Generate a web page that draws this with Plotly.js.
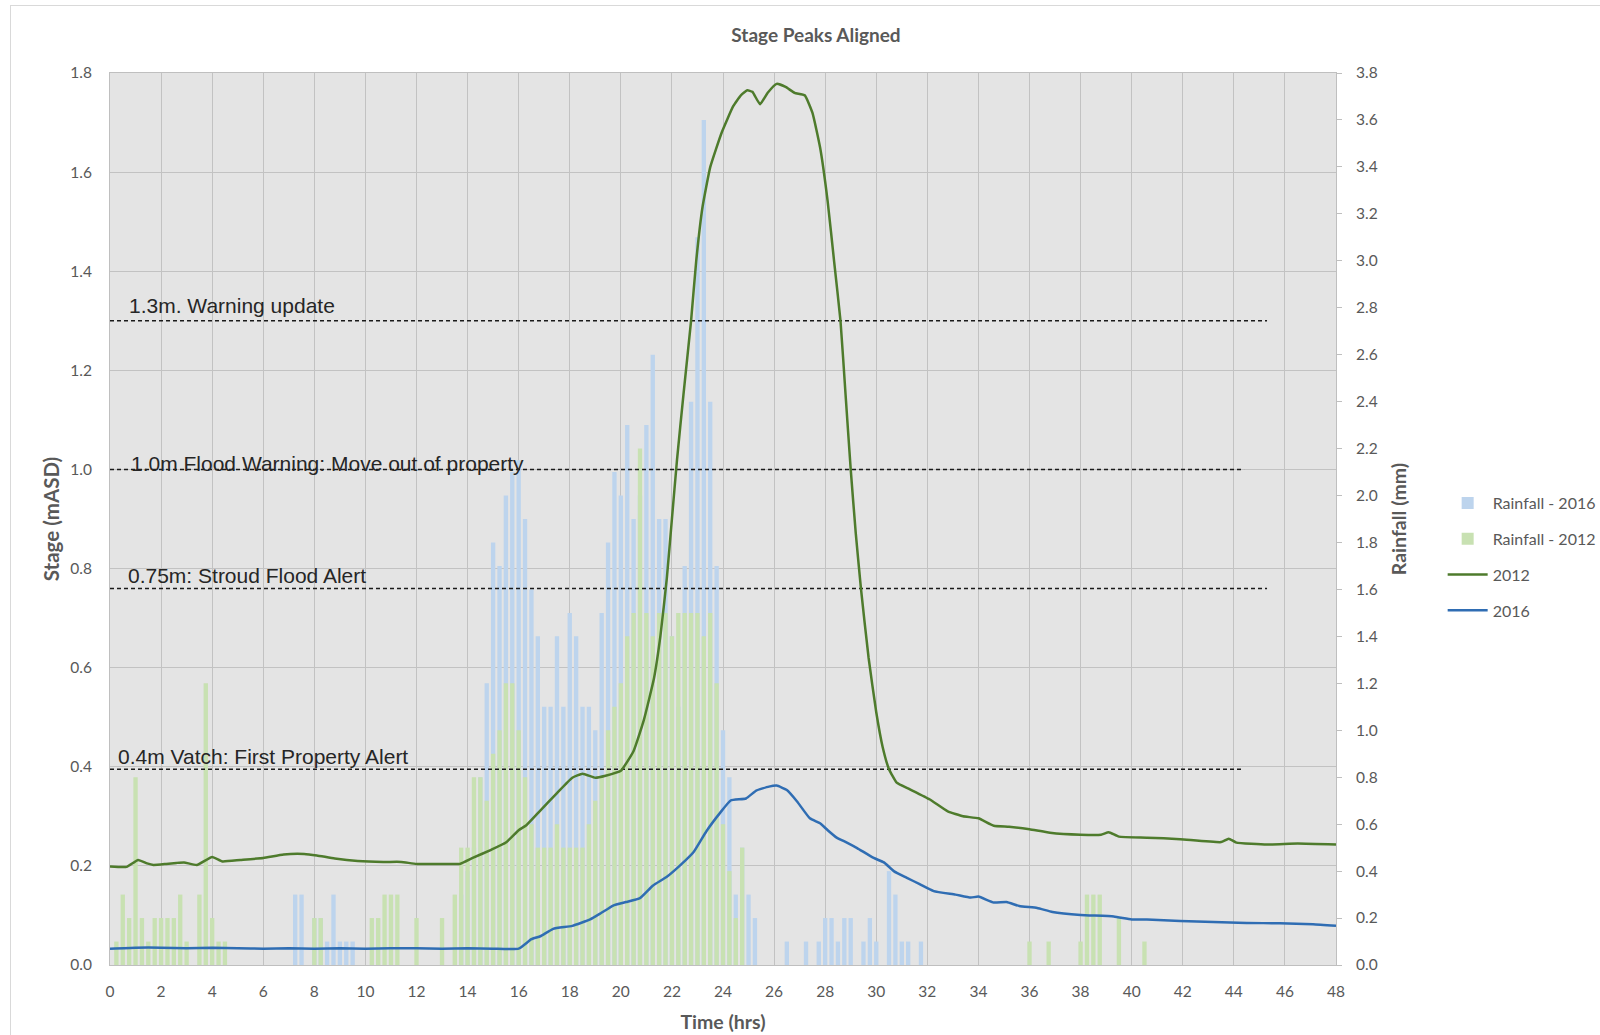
<!DOCTYPE html>
<html><head><meta charset="utf-8">
<script src="https://cdn.plot.ly/plotly-3.0.1.min.js"></script>
<style>
html,body{margin:0;padding:0;background:#fff;}
#chart{position:absolute;left:0;top:0;width:1600px;height:1035px;}
#frame{position:absolute;left:10px;top:5px;width:1620px;height:1060px;border:1px solid #d9d9d9;pointer-events:none;z-index:5;}
</style></head><body>
<div id="chart"></div><div id="frame"></div>
<script>
// ---- Rainfall (mm) per 15-minute interval, rows = hour 0..47, four quarter-hours each ----
const rain2016 = [
 0,0,0,0,  0,0,0,0,  0,0,0,0,  0,0,0,0,        // 0-3
 0,0,0,0,  0,0,0,0,  0,0,0,0,  0,0.3,0.3,0,    // 4-7
 0.2,0.2,0.1,0.3,  0.1,0.1,0.1,0,  0,0,0,0,  0,0,0,0,   // 8-11
 0,0,0,0,  0,0,0,0.3,  0.4,0.5,0.8,1.2,  1.8,1.7,2.0,2.1, // 12-15
 2.15,1.9,1.6,1.4,  1.1,1.1,1.4,1.1,  1.5,1.4,1.1,1.1,  1.0,1.5,1.8,2.1, // 16-19
 2.0,2.3,1.9,2.0,  2.3,2.6,1.9,1.9,  1.4,1.1,1.7,2.4,  3.1,3.6,2.4,1.7, // 20-23
 1.0,0.8,0.3,0.5,  0.3,0.2,0,0,  0,0,0.1,0,  0,0.1,0,0.1,  // 24-27
 0.2,0.2,0.1,0.2,  0.2,0,0.1,0.2,  0.1,0,0.4,0.3,  0.1,0.1,0,0.1, // 28-31
 0,0,0,0,  0,0,0,0,  0,0,0,0,  0,0,0,0,   // 32-35
 0,0,0,0,  0,0,0,0,  0,0,0,0,  0,0,0,0,   // 36-39
 0,0,0,0,  0,0,0,0,  0,0,0,0,  0,0,0,0,   // 40-43
 0,0,0,0,  0,0,0,0,  0,0,0,0,  0,0,0,0    // 44-47
];
const rain2012 = [
 0,0.1,0.3,0.2,  0.8,0.2,0.1,0.2,  0.2,0.2,0.2,0.3,  0.1,0,0.3,1.2,   // 0-3
 0.2,0.1,0.1,0,  0,0,0,0,  0,0,0,0,  0,0,0,0,   // 4-7
 0.2,0.2,0,0,  0,0,0,0,  0,0.2,0.2,0.3,  0.3,0.3,0,0,   // 8-11
 0.2,0,0,0,  0.2,0,0.3,0.5,  0.5,0.8,0.8,0.7,  0.9,1.0,1.2,1.2,   // 12-15
 1.0,0.8,0.6,0.5,  0.5,0.5,0.6,0.5,  0.5,0.5,0.5,0.6,  0.7,0.8,1.0,1.1, // 16-19
 1.2,1.4,1.5,2.2,  1.5,1.4,1.5,1.5,  1.4,1.5,1.5,1.5,  1.5,1.4,1.5,1.2, // 20-23
 0.6,0.4,0.2,0.5,  0,0,0,0,  0,0,0,0,  0,0,0,0,   // 24-27
 0,0,0,0,  0,0,0,0,  0,0,0,0,  0,0,0,0,   // 28-31
 0,0,0,0,  0,0,0,0,  0,0,0,0,  0,0,0,0,   // 32-35
 0.1,0,0,0.1,  0,0,0,0,  0.1,0.3,0.3,0.3,  0,0,0.2,0,   // 36-39
 0,0,0.1,0,  0,0,0,0,  0,0,0,0,  0,0,0,0,   // 40-43
 0,0,0,0,  0,0,0,0,  0,0,0,0,  0,0,0,0    // 44-47
];

// ---- Stage (mASD) ----
const time2012 = [0,0.65,1.1,1.45,1.7,2.2,2.6,2.9,3.4,4.0,4.4,5.1,6.0,6.8,7.6,8.1,8.8,9.7,10.7,11.4,12.0,13.2,13.7,
 14.2,14.9,15.5,16.0,16.3,16.8,17.5,18.1,18.5,19.0,19.4,20.0,20.5,20.9,21.3,21.55,21.8,22.0,22.2,22.45,22.75,22.95,
 23.2,23.5,23.95,24.4,24.7,24.95,25.15,25.45,25.75,26.1,26.45,26.8,27.2,27.5,27.8,28.1,28.35,28.6,28.8,29.0,29.2,29.4,
 29.7,30.0,30.25,30.5,30.8,31.3,32.1,32.8,33.4,34.0,34.6,35.2,36.0,36.8,38.0,38.8,39.1,39.5,40.6,41.9,43.5,43.8,44.1,45.3,46.5,48];
const stage2012 = [0.199,0.198,0.212,0.205,0.202,0.204,0.206,0.207,0.202,0.218,0.209,0.212,0.216,0.223,0.224,0.221,0.215,0.21,0.208,0.208,0.204,0.204,0.204,
 0.216,0.232,0.247,0.272,0.282,0.309,0.347,0.378,0.386,0.378,0.382,0.392,0.432,0.494,0.579,0.664,0.78,0.9,1.02,1.15,1.3,1.42,
 1.53,1.61,1.68,1.733,1.755,1.765,1.762,1.737,1.76,1.778,1.772,1.76,1.755,1.72,1.65,1.54,1.42,1.3,1.15,1.0,0.87,0.76,
 0.62,0.51,0.44,0.395,0.368,0.355,0.334,0.31,0.30,0.296,0.281,0.279,0.274,0.267,0.263,0.263,0.268,0.259,0.257,0.254,0.248,0.255,0.247,0.243,0.245,0.243];

const time2016 = [0,1,2,3,4,5,6,7,8,9,10,11,12,13,14,15,16.0,16.5,16.85,17.35,18.1,18.8,19.2,19.7,20.2,20.75,21.25,21.8,22.3,22.85,
 23.35,23.9,24.3,24.9,25.3,25.8,26.1,26.5,26.9,27.4,27.8,28.1,28.45,28.85,29.25,29.9,30.3,30.7,31.2,31.7,32.25,33.1,33.7,34.0,
 34.6,35.1,35.6,36.3,36.9,38.0,39.3,40.0,40.6,41.9,43.2,44.5,45.8,47.1,48];
const stage2016 = [0.033,0.035,0.035,0.034,0.035,0.034,0.033,0.034,0.033,0.034,0.033,0.034,0.034,0.033,0.034,0.033,0.033,0.052,0.058,0.073,0.079,0.092,0.104,0.12,0.127,0.135,0.16,0.178,0.2,0.228,
 0.27,0.308,0.332,0.336,0.352,0.36,0.362,0.353,0.33,0.296,0.286,0.272,0.257,0.247,0.236,0.216,0.207,0.189,0.176,0.163,0.149,0.142,0.136,0.138,
 0.126,0.127,0.119,0.115,0.107,0.101,0.098,0.092,0.092,0.089,0.087,0.085,0.084,0.082,0.079];

// ---- Alert thresholds (stage, m) ----
const thresholdLevels = [1.3, 1.0, 0.76, 0.395];
const thresholdEnds = [45.3, 44.4, 45.3, 44.3];
const thresholdLabels = ['1.3m. Warning update', '1.0m Flood Warning: Move out of property', '0.75m: Stroud Flood Alert', '0.4m Vatch: First Property Alert'];

const rainTime = rain2016.map((_, i) => i * 0.25);

// label placement (layout only)
const labelX = [0.66, 0.76, 0.64, 0.22];
const labelShift = [2, -8, -1, -1];

const traces = [
  {type:'bar', name:'Rainfall - 2016', x:rainTime, y:rain2016, yaxis:'y', width:0.17,
   marker:{color:'#bdd4ed', line:{width:0}}, legendgroup:'g1'},
  {type:'bar', name:'Rainfall - 2012', x:rainTime, y:rain2012, yaxis:'y', width:0.17,
   marker:{color:'#c8e1b2', line:{width:0}}, legendgroup:'g2'}
];
thresholdLevels.forEach((lv, i) => {
  traces.push({type:'scatter', mode:'lines', x:[0, thresholdEnds[i]], y:[lv, lv], yaxis:'y2',
    line:{color:'#1a1a1a', width:1.5, dash:'4px,3px'}, showlegend:false, hoverinfo:'skip'});
});
traces.push(
  {type:'scatter', mode:'lines', name:'2012', x:time2012, y:stage2012, yaxis:'y2',
   line:{color:'#4e7b2c', width:2.5, shape:'spline', smoothing:0.4}, legendgroup:'g3'},
  {type:'scatter', mode:'lines', name:'2016', x:time2016, y:stage2016, yaxis:'y2',
   line:{color:'#2f6db3', width:2.5, shape:'spline', smoothing:0.4}, legendgroup:'g4'}
);

const grey = '#595959';
const annotations = thresholdLabels.map((t, i) => ({
  text:t, x:labelX[i], y:thresholdLevels[i], xref:'x', yref:'y2', xanchor:'left', yanchor:'bottom',
  yshift:labelShift[i], showarrow:false,
  font:{family:'Liberation Sans, Arial, sans-serif', size:21, color:'#262626'}
}));

const layout = {
  width:1600, height:1035,
  margin:{l:110, r:264, t:73, b:70, pad:0, autoexpand:false},
  paper_bgcolor:'#ffffff', plot_bgcolor:'#e4e4e4',
  font:{family:'Lato, sans-serif', size:15, color:grey},
  title:{text:'<b>Stage Peaks Aligned</b>', x:0.51, xanchor:'center', y:0.966, yanchor:'middle',
         font:{family:'Lato, sans-serif', size:19, color:grey}},
  barmode:'overlay',
  showlegend:true,
  legend:{x:1.087, xanchor:'left', y:0.537, yanchor:'top', tracegroupgap:12, itemwidth:40,
          font:{family:'Lato, sans-serif', size:16, color:grey}, bgcolor:'rgba(0,0,0,0)'},
  xaxis:{range:[0,48], tick0:0, dtick:2, showgrid:true, gridcolor:'#c2c2c2', gridwidth:1,
         showline:true, linecolor:'#bfbfbf', mirror:true, zeroline:false, ticks:'',
         ticklabelstandoff:12, tickfont:{size:15.5, color:grey},
         title:{text:'<b>Time (hrs)</b>', standoff:16, font:{size:19.5, color:grey}}},
  yaxis:{range:[0,3.8], tick0:0, dtick:0.2, tickformat:'.1f', side:'right', showgrid:false, zeroline:false,
         showline:true, linecolor:'#bfbfbf', ticks:'outside', ticklen:5, tickcolor:'#bfbfbf',
         ticklabelstandoff:11, tickfont:{size:15.5, color:grey},
         title:{text:'<b>Rainfall (mm)</b>', standoff:15, font:{size:19.5, color:grey}}},
  yaxis2:{range:[0,1.8], tick0:0, dtick:0.2, tickformat:'.1f', overlaying:'y', side:'left', anchor:'x',
          showgrid:true, gridcolor:'#c2c2c2', gridwidth:1, zeroline:false, showline:true, linecolor:'#bfbfbf',
          ticks:'', ticklabelstandoff:14, tickfont:{size:15.5, color:grey},
          title:{text:'<b>Stage (mASD)</b>', standoff:5, font:{size:20.5, color:grey}}},
  annotations:annotations
};

Plotly.newPlot('chart', traces, layout, {staticPlot:true, displayModeBar:false});
</script></body></html>
